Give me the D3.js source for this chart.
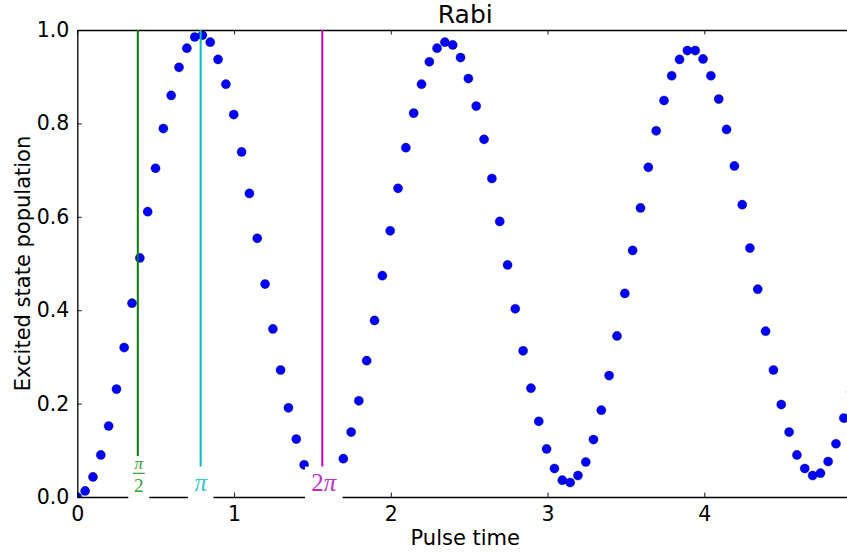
<!DOCTYPE html>
<html>
<head>
<meta charset="utf-8">
<script src="https://cdn.jsdelivr.net/npm/d3@7"></script>
<style>
  html, body { margin: 0; padding: 0; background: #fff; }
  svg { display: block; }
</style>
</head>
<body>
<svg id="chart" width="847" height="554"></svg>
<script>
// ---- data ----
const pulseTimes = [0, 0.05, 0.1, 0.15, 0.2, 0.25, 0.299, 0.349, 0.399, 0.449,
  0.499, 0.549, 0.599, 0.649, 0.699, 0.749, 0.798, 0.848, 0.898, 0.948,
  0.998, 1.048, 1.098, 1.148, 1.198, 1.248, 1.297, 1.347, 1.397, 1.447,
  1.497, 1.547, 1.597, 1.647, 1.697, 1.747, 1.796, 1.846, 1.896, 1.946,
  1.996, 2.046, 2.096, 2.146, 2.196, 2.246, 2.295, 2.345, 2.395, 2.445,
  2.495, 2.545, 2.595, 2.645, 2.695, 2.745, 2.794, 2.844, 2.894, 2.944,
  2.994, 3.044, 3.094, 3.144, 3.194, 3.244, 3.293, 3.343, 3.393, 3.443,
  3.493, 3.543, 3.593, 3.643, 3.693, 3.743, 3.792, 3.842, 3.892, 3.942,
  3.992, 4.042, 4.092, 4.142, 4.192, 4.242, 4.291, 4.341, 4.391, 4.441,
  4.491, 4.541, 4.591, 4.641, 4.691, 4.741, 4.790, 4.840, 4.890, 4.940];
const population = [0.000, 0.013, 0.043, 0.090, 0.152, 0.231, 0.320, 0.415, 0.512, 0.611,
  0.704, 0.789, 0.860, 0.920, 0.961, 0.985, 0.989, 0.974, 0.937, 0.884,
  0.819, 0.739, 0.650, 0.554, 0.456, 0.360, 0.272, 0.191, 0.124, 0.069,
  0.030, 0.010, 0.008, 0.035, 0.082, 0.139, 0.206, 0.292, 0.378, 0.474,
  0.570, 0.661, 0.748, 0.822, 0.884, 0.932, 0.961, 0.974, 0.968, 0.941,
  0.896, 0.837, 0.766, 0.682, 0.590, 0.497, 0.403, 0.313, 0.233, 0.162,
  0.103, 0.061, 0.036, 0.031, 0.046, 0.075, 0.123, 0.186, 0.260, 0.345,
  0.436, 0.528, 0.619, 0.706, 0.784, 0.849, 0.902, 0.937, 0.956, 0.956,
  0.938, 0.902, 0.852, 0.787, 0.709, 0.626, 0.533, 0.445, 0.355, 0.272,
  0.198, 0.139, 0.090, 0.061, 0.046, 0.051, 0.076, 0.114, 0.169, 0.225];
const xTicks = [0, 1, 2, 3, 4];
const xTickLabels = ["0", "1", "2", "3", "4"];
const yTicks = [0, 0.2, 0.4, 0.6, 0.8, 1.0];
const yTickLabels = ["0.0", "0.2", "0.4", "0.6", "0.8", "1.0"];
const markerTimes = [0.386, 0.787, 1.563];
const markerNames = ["pi/2", "pi", "2pi"];
const markerColors = ["#008000", "#00bfbf", "#bf00bf"];
const markerTextColors = ["#30a030", "#30c8c8", "#c030c8"];
const markerBottoms = [0.087, 0.065, 0.065];
const titleText = "Rabi";
const xLabelText = "Pulse time";
const yLabelText = "Excited state population";

(function draw() {
  // ---- layout ----
  const pLeft = 77.3, pTop = 30, pBottom = 497;
  const xMax = 4.95;
  const xPerUnit = 156.75;
  const pRight = pLeft + xMax * xPerUnit;

  const x = d3.scaleLinear().domain([0, xMax]).range([pLeft, pRight]);
  const y = d3.scaleLinear().domain([0, 1]).range([pBottom, pTop]);

  const svg = d3.select("#chart");
  const fontSans = "'DejaVu Sans', sans-serif";
  const fontSerif = "'Liberation Serif', 'DejaVu Serif', serif";

  svg.append("defs").append("clipPath").attr("id", "clip")
    .append("rect").attr("x", pLeft).attr("y", pTop)
    .attr("width", pRight - pLeft).attr("height", pBottom - pTop);

  // points
  svg.append("g").attr("clip-path", "url(#clip)")
    .selectAll("circle").data(pulseTimes).join("circle")
    .attr("cx", d => x(d))
    .attr("cy", (d, i) => y(population[i]))
    .attr("r", 4.6)
    .attr("fill", "#0000ff")
    .attr("stroke", "#000")
    .attr("stroke-opacity", 0.6)
    .attr("stroke-width", 0.5);

  // axes (ticks inside, matplotlib classic)
  const tickLen = 4.5;
  const axBottom = d3.axisBottom(x).tickValues(xTicks).tickFormat((d, i) => xTickLabels[i])
    .tickSizeInner(-tickLen).tickSizeOuter(0).tickPadding(8);
  const axTop = d3.axisTop(x).tickValues(xTicks).tickFormat("")
    .tickSizeInner(-tickLen).tickSizeOuter(0);
  const axLeft = d3.axisLeft(y).tickValues(yTicks).tickFormat((d, i) => yTickLabels[i])
    .tickSizeInner(-tickLen).tickSizeOuter(0).tickPadding(8);
  const axRight = d3.axisRight(y).tickValues(yTicks).tickFormat("")
    .tickSizeInner(-tickLen).tickSizeOuter(0);

  function style(g) {
    g.select(".domain").attr("stroke", "#000").attr("stroke-width", 1.3);
    g.selectAll(".tick line").attr("stroke", "#000").attr("stroke-width", 0.9);
    g.selectAll(".tick text").attr("fill", "#000")
      .style("font-family", fontSans).style("font-size", "20.5px");
  }
  svg.append("g").attr("transform", `translate(0,${pBottom})`).call(axBottom).call(style)
    .selectAll(".tick text").attr("dy", "0.76em");
  svg.append("g").attr("transform", `translate(0,${pTop})`).call(axTop).call(style);
  svg.append("g").attr("transform", `translate(${pLeft},0)`).call(axLeft).call(style);
  svg.append("g").attr("transform", `translate(${pRight},0)`).call(axRight).call(style);

  // vertical marker lines
  svg.append("g").selectAll("line").data(markerTimes).join("line")
    .attr("x1", d => x(d)).attr("x2", d => x(d))
    .attr("y1", y(1)).attr("y2", (d, i) => y(markerBottoms[i]))
    .attr("stroke", (d, i) => markerColors[i])
    .attr("stroke-width", 2);

  // label boxes (white bbox hiding the axis)
  const boxW = [21, 25.6, 37.7];
  const labelG = svg.append("g");
  markerTimes.forEach((t, i) => {
    const cx = x(t) + (i === 2 ? 1.5 : (i === 0 ? 1 : 0));
    const bt = y(markerBottoms[i]);
    labelG.append("rect")
      .attr("x", cx - boxW[i] / 2).attr("y", bt)
      .attr("width", boxW[i]).attr("height", y(0) + 3 - bt)
      .attr("fill", "#fff");
    const col = markerTextColors[i];
    if (markerNames[i] === "pi/2") {
      labelG.append("text").attr("x", cx).attr("y", y(0) - 28.5)
        .attr("text-anchor", "middle").attr("fill", col)
        .style("font-family", fontSerif).style("font-style", "italic").style("font-size", "17px")
        .text("π");
      labelG.append("line").attr("x1", cx - 6).attr("x2", cx + 6)
        .attr("y1", y(0) - 23.7).attr("y2", y(0) - 23.7)
        .attr("stroke", col).attr("stroke-width", 1.2);
      labelG.append("text").attr("x", cx).attr("y", y(0) - 5.5)
        .attr("text-anchor", "middle").attr("fill", col)
        .style("font-family", fontSerif).style("font-size", "19px")
        .text("2");
    } else if (markerNames[i] === "pi") {
      labelG.append("text").attr("x", cx).attr("y", y(0) - 6.5)
        .attr("text-anchor", "middle").attr("fill", col)
        .style("font-family", fontSerif).style("font-style", "italic").style("font-size", "25px")
        .text("π");
    } else {
      const t2 = labelG.append("text").attr("x", cx).attr("y", y(0) - 6.5)
        .attr("text-anchor", "middle").attr("fill", col)
        .style("font-family", fontSerif).style("font-size", "25px");
      t2.append("tspan").text("2");
      t2.append("tspan").style("font-style", "italic").text("π");
    }
  });

  // title and axis labels
  svg.append("text").attr("x", (pLeft + pRight) / 2).attr("y", 23.3)
    .attr("text-anchor", "middle").attr("fill", "#000")
    .style("font-family", fontSans).style("font-size", "25px").text(titleText);
  svg.append("text").attr("x", (pLeft + pRight) / 2).attr("y", 545)
    .attr("text-anchor", "middle").attr("fill", "#000")
    .style("font-family", fontSans).style("font-size", "21px").text(xLabelText);
  svg.append("text")
    .attr("transform", `translate(30,${(pTop + pBottom) / 2}) rotate(-90)`)
    .attr("text-anchor", "middle").attr("fill", "#000")
    .style("font-family", fontSans).style("font-size", "21px").text(yLabelText);
})();
</script>
</body>
</html>
